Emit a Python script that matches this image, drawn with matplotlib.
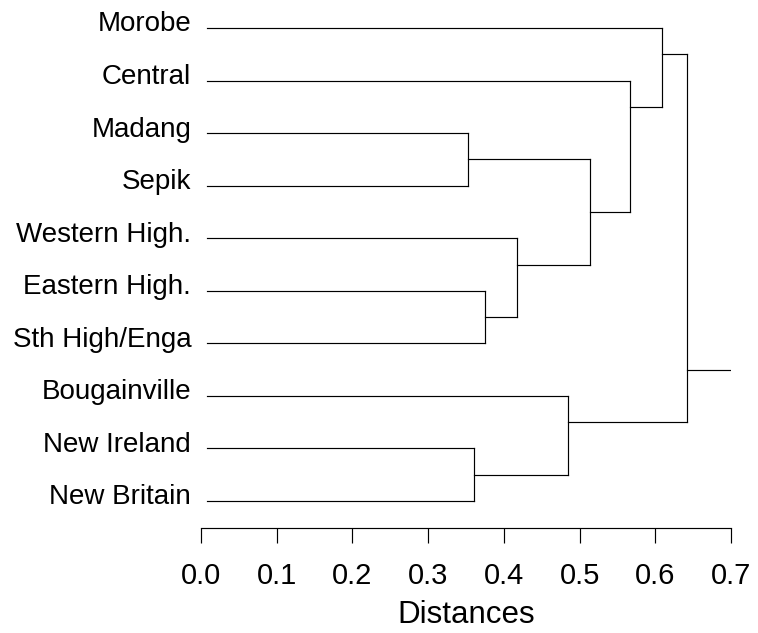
import matplotlib
matplotlib.use("Agg")
import matplotlib.pyplot as plt

plt.rcParams['font.family'] = ['Liberation Sans', 'DejaVu Sans']

# Leaves, top to bottom
labels = ['Morobe', 'Central', 'Madang', 'Sepik', 'Western High.',
          'Eastern High.', 'Sth High/Enga', 'Bougainville',
          'New Ireland', 'New Britain']

# Merges: node 10 onwards (leaves are 0-9)
merge_left = [2, 5, 8, 4, 7, 10, 1, 0, 17]
merge_right = [3, 6, 9, 11, 12, 13, 15, 16, 14]
merge_height = [0.353, 0.375, 0.361, 0.417, 0.485, 0.514, 0.567, 0.609, 0.642]

xticks = [0.0, 0.1, 0.2, 0.3, 0.4, 0.5, 0.6, 0.7]
x_max = 0.7
leaf_start = 0.008

W, H = 758, 633
fig = plt.figure(figsize=(W / 100, H / 100), dpi=100)
ax = fig.add_axes([201 / W, 1 - 527.7 / H, 530 / W, (527.7 - 10) / H])

lc = dict(color='black', lw=0.85, solid_capstyle='projecting')

n = len(labels)
anchor = {i: float(i) for i in range(n)}
xpos = {i: leaf_start for i in range(n)}
span = {i: (i, i) for i in range(n)}

for k, (a, b, h) in enumerate(zip(merge_left, merge_right, merge_height)):
    node = n + k
    ax.plot([xpos[a], h], [anchor[a], anchor[a]], **lc)
    ax.plot([xpos[b], h], [anchor[b], anchor[b]], **lc)
    ax.plot([h, h], [anchor[a], anchor[b]], **lc)
    # link leaves the vertical between the two adjacent leaves
    anchor[node] = (span[a][1] + span[b][0]) / 2
    span[node] = (span[a][0], span[b][1])
    xpos[node] = h

root = n + len(merge_height) - 1
ax.plot([xpos[root], x_max], [anchor[root], anchor[root]], **lc)

for i, name in enumerate(labels):
    ax.text(-0.013, i + 0.065, name, ha='right', va='baseline',
            fontsize=20, clip_on=False)

ax.set_xlim(0, x_max)
ax.set_ylim(9.507, -0.342)
for s in ['top', 'right', 'left']:
    ax.spines[s].set_visible(False)
ax.spines['bottom'].set_linewidth(0.85)
ax.set_yticks([])
ax.set_xticks(xticks)
ax.set_xticklabels([f'{t:.1f}' for t in xticks])
ax.tick_params(axis='x', direction='out', length=11, width=0.85,
               labelsize=21, pad=14)
ax.set_xlabel('Distances', fontsize=22.5, labelpad=7)

fig.savefig('out.png', dpi=100)
